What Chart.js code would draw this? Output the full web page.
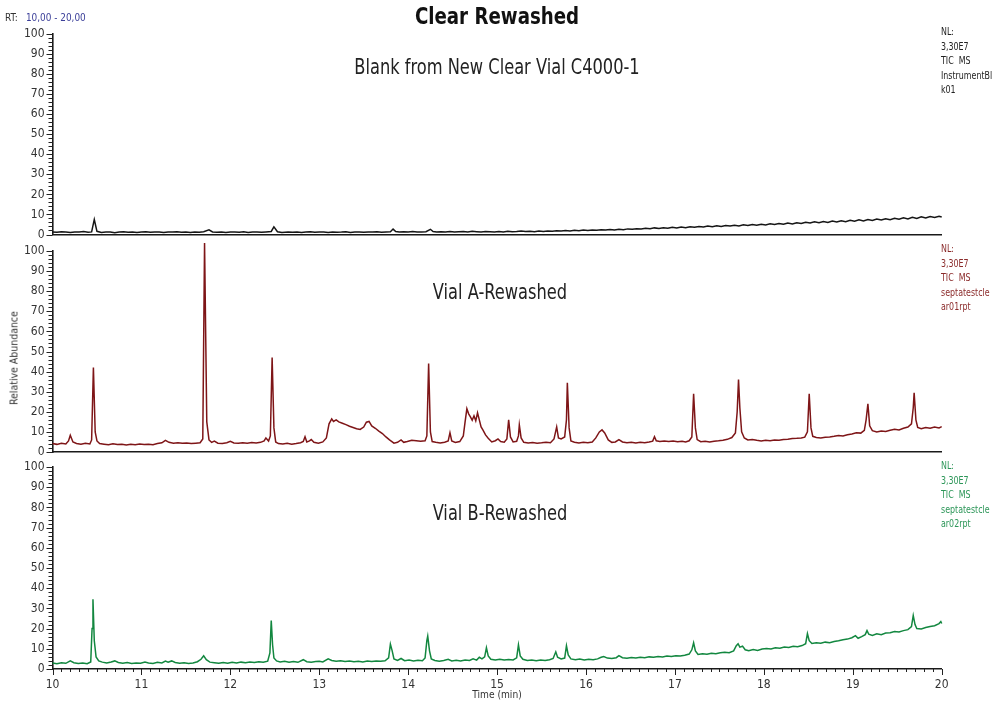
<!DOCTYPE html>
<html>
<head>
<meta charset="utf-8">
<script src="https://cdn.jsdelivr.net/npm/chart.js@4.4.1/dist/chart.umd.min.js"></script>
<style>
  html, body { margin: 0; padding: 0; background: #fff; }
  #wrap { position: relative; width: 994px; height: 705px; overflow: hidden; background: #fff;
          font-family: "DejaVu Sans Condensed", "Liberation Sans Narrow", Roboto, sans-serif; }
  canvas { position: absolute; left: 0; }
  .t { position: absolute; white-space: nowrap; }
  .title { left: 497px; top: 3px; font-size: 23px; font-weight: bold; color: #111; transform: translateX(-50%) scaleX(0.88); }
  .ptitle { font-size: 21px; color: #222; transform: translateX(-50%) scaleX(0.86); }
  .nl { font-size: 11px; line-height: 14.5px; left: 941px; color: #222; transform: scaleX(0.8); transform-origin: 0 0; }
  .rt { left: 5px; top: 11px; font-size: 11px; color: #333; transform: scaleX(0.9); transform-origin: 0 0; }
  .rt span { color: #3b3f99; margin-left: 9px; }
  .ylab { font-size: 11px; color: #333; left: 14px; top: 358px; transform: translate(-50%, -50%) rotate(-90deg) scaleX(0.95); }
  .xlab { font-size: 11px; color: #333; left: 497px; top: 688px; transform: translateX(-50%) scaleX(0.92); }
</style>
</head>
<body>
<div id="wrap">
  <canvas id="c1" width="994" height="222" style="top:24px"></canvas>
  <canvas id="c2" width="994" height="228" style="top:236px"></canvas>
  <canvas id="c3" width="994" height="250" style="top:455px"></canvas>

  <div class="t title">Clear Rewashed</div>
  <div class="t rt">RT:<span>10,00 - 20,00</span></div>
  <div class="t ptitle" style="left:497px; top:55px;">Blank from New Clear Vial C4000-1</div>
  <div class="t ptitle" style="left:500px; top:280px;">Vial A-Rewashed</div>
  <div class="t ptitle" style="left:500px; top:501px;">Vial B-Rewashed</div>
  <div class="t nl" style="top:25px;">NL:<br>3,30E7<br>TIC&nbsp; MS<br>InstrumentBl<br>k01</div>
  <div class="t nl" style="top:242px; color:#8b2b2b;">NL:<br>3,30E7<br>TIC&nbsp; MS<br>septatestcle<br>ar01rpt</div>
  <div class="t nl" style="top:459px; color:#2c9658;">NL:<br>3,30E7<br>TIC&nbsp; MS<br>septatestcle<br>ar02rpt</div>
  <div class="t ylab">Relative Abundance</div>
  <div class="t xlab">Time (min)</div>
</div>
<script>
// ---- data (retention time in minutes, relative abundance in %) ----
const blankTimes = [10.00,10.05,10.10,10.15,10.20,10.25,10.30,10.35,10.40,10.44,10.47,10.50,10.55,10.60,10.65,10.70,10.75,10.80,10.85,10.90,10.95,11.00,11.05,11.10,11.15,11.20,11.25,11.30,11.35,11.40,11.45,11.50,11.55,11.60,11.65,11.70,11.76,11.80,11.85,11.90,11.95,12.00,12.05,12.10,12.15,12.20,12.25,12.30,12.35,12.40,12.46,12.49,12.53,12.58,12.65,12.70,12.75,12.80,12.85,12.90,12.95,13.00,13.05,13.10,13.15,13.20,13.25,13.30,13.35,13.40,13.45,13.50,13.55,13.60,13.65,13.70,13.75,13.80,13.83,13.86,13.90,13.95,14.00,14.05,14.10,14.15,14.20,14.25,14.28,14.32,14.37,14.42,14.47,14.52,14.57,14.62,14.67,14.72,14.77,14.82,14.87,14.92,14.97,15.02,15.07,15.12,15.17,15.22,15.27,15.32,15.37,15.42,15.47,15.52,15.57,15.62,15.67,15.72,15.77,15.82,15.87,15.92,15.97,16.02,16.07,16.12,16.17,16.22,16.27,16.32,16.37,16.42,16.47,16.52,16.57,16.62,16.67,16.72,16.77,16.82,16.87,16.92,16.97,17.02,17.07,17.12,17.17,17.22,17.27,17.32,17.37,17.42,17.47,17.52,17.57,17.62,17.67,17.72,17.77,17.82,17.87,17.92,17.97,18.02,18.07,18.12,18.17,18.22,18.27,18.32,18.37,18.42,18.47,18.52,18.57,18.62,18.67,18.72,18.77,18.82,18.87,18.92,18.97,19.02,19.07,19.12,19.17,19.22,19.27,19.32,19.37,19.42,19.47,19.52,19.57,19.62,19.67,19.72,19.77,19.82,19.87,19.92,19.97,20.00];
const blankValues = [1.3,1.1,1.4,1.2,1.0,1.3,1.2,1.5,1.1,1.3,7.5,1.6,1.0,1.2,1.3,0.9,1.2,1.4,1.1,1.3,1.0,1.2,1.4,1.1,1.3,1.2,1.0,1.3,1.2,1.4,1.1,1.2,1.0,1.3,1.1,1.4,2.3,1.3,1.1,1.2,1.0,1.3,1.2,1.1,1.4,1.0,1.3,1.2,1.1,1.3,1.5,3.8,1.4,1.0,1.2,1.1,1.3,1.0,1.2,1.4,1.1,1.3,1.2,1.0,1.3,1.1,1.2,1.4,1.0,1.2,1.3,1.1,1.3,1.2,1.4,1.1,1.3,1.4,2.7,1.5,1.2,1.4,1.3,1.5,1.2,1.3,1.4,2.6,1.5,1.2,1.4,1.3,1.5,1.2,1.4,1.5,1.3,1.6,1.4,1.2,1.5,1.4,1.3,1.5,1.3,1.6,1.4,1.5,1.8,1.5,1.6,1.4,1.7,1.5,1.8,1.6,1.9,1.7,2.0,1.8,2.1,1.9,2.2,2.0,2.3,2.1,2.4,2.2,2.5,2.3,2.6,2.4,2.8,2.6,2.9,2.7,3.1,2.9,3.3,3.0,3.4,3.1,3.6,3.3,3.7,3.4,3.9,3.6,4.0,3.7,4.2,3.9,4.3,4.0,4.5,4.2,4.6,4.3,4.8,4.5,5.0,4.6,5.1,4.8,5.3,5.0,5.5,5.1,5.7,5.3,5.9,5.5,6.1,5.7,6.3,5.9,6.5,6.0,6.7,6.2,6.9,6.4,7.1,6.6,7.3,6.8,7.5,7.0,7.7,7.2,7.9,7.4,8.1,7.6,8.3,7.8,8.6,8.0,8.8,8.2,9.0,8.5,9.1,8.7];

const vialATimes = [10.00,10.05,10.10,10.15,10.18,10.20,10.23,10.27,10.32,10.37,10.42,10.44,10.46,10.48,10.50,10.53,10.58,10.63,10.68,10.73,10.78,10.83,10.88,10.93,10.98,11.03,11.08,11.13,11.18,11.23,11.27,11.31,11.36,11.41,11.46,11.51,11.56,11.61,11.66,11.69,11.71,11.735,11.76,11.79,11.82,11.86,11.91,11.96,12.00,12.04,12.09,12.14,12.19,12.24,12.29,12.34,12.38,12.40,12.43,12.45,12.47,12.49,12.51,12.54,12.59,12.64,12.69,12.74,12.79,12.82,12.84,12.86,12.89,12.91,12.94,12.99,13.04,13.08,13.11,13.14,13.16,13.19,13.22,13.26,13.30,13.34,13.38,13.42,13.46,13.50,13.53,13.56,13.59,13.63,13.67,13.71,13.75,13.79,13.84,13.88,13.92,13.95,13.99,14.04,14.09,14.14,14.19,14.21,14.23,14.25,14.27,14.31,14.36,14.41,14.45,14.47,14.49,14.53,14.58,14.62,14.64,14.66,14.68,14.70,14.72,14.74,14.76,14.78,14.80,14.82,14.84,14.87,14.90,14.94,14.98,15.01,15.04,15.08,15.11,15.13,15.15,15.18,15.22,15.24,15.25,15.27,15.30,15.35,15.40,15.45,15.50,15.55,15.60,15.64,15.67,15.69,15.72,15.76,15.78,15.79,15.81,15.83,15.87,15.92,15.97,16.02,16.07,16.11,16.15,16.18,16.21,16.25,16.29,16.33,16.37,16.41,16.46,16.51,16.56,16.61,16.66,16.71,16.75,16.77,16.79,16.83,16.88,16.93,16.98,17.03,17.08,17.12,17.16,17.19,17.21,17.23,17.25,17.29,17.34,17.39,17.44,17.49,17.54,17.59,17.64,17.68,17.70,17.715,17.73,17.75,17.78,17.82,17.87,17.92,17.97,18.02,18.07,18.12,18.17,18.22,18.27,18.32,18.37,18.42,18.46,18.49,18.51,18.53,18.55,18.59,18.64,18.69,18.74,18.79,18.84,18.89,18.94,18.99,19.04,19.09,19.13,19.15,19.17,19.19,19.22,19.27,19.32,19.37,19.42,19.47,19.52,19.57,19.62,19.66,19.68,19.69,19.71,19.73,19.77,19.82,19.87,19.92,19.97,20.00];
const vialAValues = [4.2,3.8,4.3,4.0,5.5,8.3,5.0,4.2,3.9,4.3,4.0,6.0,42.0,10.0,5.5,4.2,3.9,3.6,4.1,3.7,3.9,3.5,3.8,3.6,4.0,3.7,3.9,3.6,4.2,4.6,5.8,4.8,4.4,4.6,4.3,4.5,4.2,4.4,4.6,6.5,104.0,15.0,6.0,4.8,5.4,4.4,4.2,4.6,5.3,4.5,4.3,4.6,4.4,4.7,4.5,4.8,5.5,7.0,5.5,8.0,47.0,12.0,5.0,4.2,4.0,4.3,3.9,4.2,4.6,5.2,7.6,5.0,5.5,6.2,4.8,4.4,5.0,7.0,14.0,16.5,15.2,16.0,15.0,14.3,13.6,12.8,12.2,11.6,11.2,12.4,14.8,15.2,13.0,11.8,10.4,9.2,7.5,6.0,4.4,4.8,6.0,4.8,5.2,5.8,5.6,5.3,5.6,8.0,44.0,10.0,5.2,4.8,4.5,4.9,5.5,9.6,5.5,4.7,5.2,8.0,15.0,21.5,19.0,17.5,15.8,18.0,15.5,19.5,16.0,12.5,11.0,8.5,6.8,5.0,5.6,6.5,5.2,4.9,6.5,16.0,7.5,5.0,5.3,8.0,13.5,7.0,4.8,4.5,4.7,4.4,4.6,4.9,4.6,6.5,12.5,7.0,6.5,7.5,16.0,34.5,12.0,5.5,4.9,4.5,4.8,4.6,5.0,7.0,10.0,11.0,9.5,6.0,4.8,5.0,6.2,5.0,4.6,4.9,4.5,4.8,4.6,5.0,5.4,7.6,5.6,5.2,5.5,5.2,5.5,5.1,5.4,5.0,5.6,7.5,29.0,12.0,6.2,5.1,5.3,5.0,5.4,5.6,5.9,6.3,7.2,9.5,20.0,36.0,22.0,10.0,7.0,6.0,6.2,5.8,5.5,5.8,5.6,6.0,5.8,6.2,6.3,6.7,6.8,7.0,7.4,10.0,29.0,12.0,7.8,7.2,7.0,7.3,7.5,7.8,8.2,8.0,8.6,9.0,9.6,9.4,10.8,16.0,24.0,13.0,10.6,10.0,10.4,10.2,10.8,11.3,11.0,11.8,12.4,14.0,22.0,29.5,16.0,12.2,11.6,12.2,11.8,12.4,12.0,12.6];

const vialBTimes = [10.00,10.05,10.10,10.15,10.20,10.24,10.29,10.34,10.39,10.43,10.445,10.455,10.47,10.49,10.52,10.56,10.61,10.66,10.70,10.74,10.79,10.84,10.89,10.94,10.99,11.04,11.08,11.13,11.18,11.23,11.27,11.30,11.34,11.38,11.43,11.48,11.53,11.58,11.63,11.67,11.70,11.73,11.77,11.82,11.87,11.92,11.97,12.02,12.07,12.12,12.17,12.22,12.27,12.32,12.37,12.42,12.445,12.46,12.475,12.49,12.52,12.56,12.61,12.66,12.71,12.76,12.82,12.86,12.91,12.96,13.00,13.04,13.10,13.14,13.19,13.24,13.29,13.34,13.39,13.44,13.49,13.54,13.59,13.64,13.69,13.74,13.78,13.80,13.82,13.84,13.88,13.92,13.96,14.01,14.06,14.11,14.16,14.19,14.21,14.22,14.24,14.26,14.30,14.35,14.40,14.45,14.49,14.54,14.59,14.64,14.69,14.73,14.77,14.80,14.83,14.86,14.88,14.90,14.93,14.98,15.03,15.08,15.13,15.18,15.22,15.24,15.26,15.29,15.34,15.39,15.44,15.49,15.54,15.59,15.63,15.66,15.68,15.72,15.76,15.78,15.80,15.83,15.88,15.93,15.98,16.03,16.08,16.13,16.17,16.20,16.24,16.29,16.34,16.37,16.41,16.46,16.51,16.56,16.61,16.66,16.71,16.76,16.81,16.86,16.91,16.96,17.01,17.06,17.11,17.16,17.19,17.21,17.23,17.26,17.31,17.36,17.41,17.46,17.51,17.56,17.61,17.66,17.69,17.71,17.73,17.76,17.79,17.83,17.88,17.93,17.98,18.03,18.08,18.13,18.18,18.23,18.28,18.33,18.38,18.43,18.47,18.49,18.51,18.54,18.59,18.64,18.69,18.74,18.79,18.84,18.89,18.94,18.99,19.03,19.06,19.10,19.14,19.16,19.18,19.22,19.27,19.32,19.37,19.42,19.47,19.52,19.57,19.62,19.66,19.68,19.70,19.72,19.77,19.82,19.87,19.92,19.97,19.99,20.00];
const vialBValues = [3.0,2.6,3.1,2.8,4.0,3.1,2.7,3.0,2.6,3.5,20.0,34.5,14.0,6.0,4.0,3.4,3.0,3.5,4.0,3.2,2.9,3.2,2.7,3.0,2.8,3.4,3.0,2.7,3.3,3.0,3.9,3.4,4.0,3.2,2.8,3.1,2.7,3.0,3.6,4.8,6.5,4.6,3.4,3.1,2.8,3.2,2.9,3.3,3.0,3.4,3.1,3.5,3.2,3.6,3.3,3.9,8.0,24.0,12.0,5.5,4.0,3.5,3.8,3.4,3.7,3.3,4.6,3.6,3.4,3.7,3.8,3.5,5.0,4.2,3.8,4.1,3.7,3.9,3.6,3.8,3.5,3.9,3.7,4.0,3.8,4.1,5.5,12.3,9.0,5.0,4.2,5.2,4.1,4.4,4.0,4.3,4.1,5.5,14.0,16.3,9.0,5.0,4.2,3.9,4.2,4.8,4.0,4.3,4.0,4.5,4.2,5.0,4.4,5.8,5.0,6.0,10.5,6.5,4.8,4.4,4.8,4.4,4.7,4.5,5.5,12.0,6.5,4.8,4.2,4.5,4.1,4.4,4.2,4.6,5.2,8.5,5.8,5.0,5.4,11.5,7.0,5.0,4.6,4.9,4.5,4.8,4.6,5.0,5.8,6.2,5.4,5.2,5.6,6.6,5.6,5.3,5.7,5.5,5.8,5.6,6.0,5.8,6.2,6.0,6.4,6.2,6.6,6.4,6.8,7.4,9.5,13.0,9.0,7.2,7.5,7.3,7.8,7.6,8.0,8.3,8.1,9.0,11.5,12.5,10.8,11.3,9.5,9.0,9.6,9.2,9.9,10.2,9.9,10.5,10.3,10.9,10.6,11.2,11.0,11.6,12.5,17.5,14.0,12.6,13.0,12.7,13.3,13.0,13.6,14.0,14.5,14.8,15.5,16.5,15.2,16.0,17.0,19.0,17.2,16.6,17.4,17.0,17.8,18.0,18.6,18.3,19.0,19.5,21.0,26.5,22.0,20.0,19.8,20.5,21.0,21.4,22.5,23.5,22.5];

const yTickLabels = ['0','10','20','30','40','50','60','70','80','90','100'];
const xTickLabels = ['10','11','12','13','14','15','16','17','18','19','20'];

// ---- drawing ----
const FONT = '"DejaVu Sans Condensed", "Liberation Sans Narrow", Roboto, sans-serif';

const tickPlugin = {
  id: 'axisTicks',
  afterDraw(chart, args, opts) {
    const ctx = chart.ctx, area = chart.chartArea;
    ctx.save();
    ctx.strokeStyle = '#222';
    ctx.lineWidth = 1;
    const ys = chart.scales.y;
    ys.ticks.forEach(t => {
      const py = Math.round(ys.getPixelForValue(t.value)) + 0.5;
      const major = Math.abs(t.value % 10) < 1e-6;
      const len = major ? 6 : 4;
      ctx.beginPath(); ctx.moveTo(area.left - len, py); ctx.lineTo(area.left, py); ctx.stroke();
    });
    if (opts.xTicks) {
      const xs = chart.scales.x;
      xs.ticks.forEach(t => {
        const px = Math.round(xs.getPixelForValue(t.value)) + 0.5;
        const major = Math.abs(t.value - Math.round(t.value)) < 1e-6;
        const len = major ? 6 : 3;
        ctx.beginPath(); ctx.moveTo(px, area.bottom); ctx.lineTo(px, area.bottom + len); ctx.stroke();
      });
    }
    ctx.restore();
  }
};

function makePanel(id, times, values, color, opt) {
  const pts = times.map((t, i) => ({ x: t, y: values[i] }));
  return new Chart(document.getElementById(id), {
    type: 'line',
    data: { datasets: [{ data: pts, borderColor: color, borderWidth: 1.5, pointRadius: 0, tension: 0, clip: false, fill: false }] },
    plugins: [tickPlugin],
    options: {
      responsive: false, animation: false, events: [],
      layout: { padding: { top: opt.padTop, bottom: 0, left: 0, right: 52.3 } },
      plugins: { legend: { display: false }, tooltip: { enabled: false }, axisTicks: { xTicks: opt.xLabels } },
      scales: {
        x: {
          type: 'linear', min: 10, max: 20,
          afterFit: s => { s.height = opt.xHeight; },
          grid: { display: false, drawTicks: true, tickLength: 9 },
          border: { display: true, color: '#1a1a1a', width: 1.6 },
          ticks: {
            display: opt.xLabels, stepSize: 0.1, autoSkip: false, maxRotation: 0, padding: 0,
            color: '#333', font: { family: FONT, size: 12 },
            callback: v => { const r = Math.round(v); return Math.abs(v - r) < 1e-6 ? xTickLabels[r - 10] : ''; }
          }
        },
        y: {
          min: 0, max: 100,
          afterFit: s => { s.width = 52.5; },
          grid: { display: false, drawTicks: true, tickLength: 8 },
          border: { display: true, color: '#1a1a1a', width: 1.6 },
          ticks: {
            stepSize: 2, autoSkip: false, padding: 0,
            color: '#333', font: { family: FONT, size: 12 },
            callback: v => (Math.abs(v % 10) < 1e-6 ? yTickLabels[Math.round(v / 10)] : '')
          }
        }
      }
    }
  });
}

makePanel('c1', blankTimes, blankValues, '#151515', { padTop: 10, xHeight: 11.5, xLabels: false });
makePanel('c2', vialATimes, vialAValues, '#7e1517', { padTop: 15, xHeight: 12, xLabels: false });
makePanel('c3', vialBTimes, vialBValues, '#12873f', { padTop: 12, xHeight: 36, xLabels: true });
</script>
</body>
</html>
